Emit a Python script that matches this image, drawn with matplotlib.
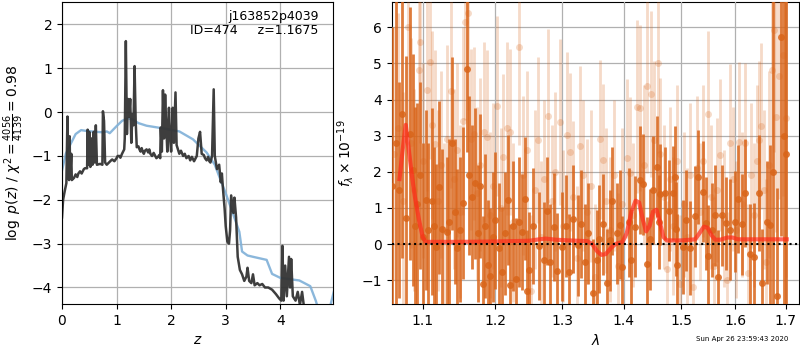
import numpy as np
import matplotlib
matplotlib.use("Agg")
import matplotlib.pyplot as plt
from matplotlib.ticker import FixedLocator, FixedFormatter, NullLocator

# ---------------- left panel: p(z) ----------------
z_prior = [0.0, 0.07, 0.14, 0.25, 0.35, 0.45, 0.63, 0.75, 0.82, 0.875, 1.0, 1.1, 1.2, 1.3, 1.4,
           1.55, 1.9, 2.15, 2.4, 2.65, 2.8, 2.9, 3.0, 3.1, 3.25, 3.3, 3.4, 3.5, 3.75, 3.85,
           4.0, 4.35, 4.55, 4.65, 4.75, 4.9, 5.0]
logp_prior = [-1.33, -0.95, -0.77, -0.5, -0.41, -0.43, -0.45, -0.46, -0.44, -0.48, -0.32, -0.2,
              -0.14, -0.17, -0.25, -0.31, -0.38, -0.44, -0.62, -0.92, -1.2, -1.53, -1.85, -2.2,
              -2.73, -3.18, -3.27, -3.3, -3.37, -3.69, -3.78, -3.84, -3.97, -4.3, -4.7, -4.5, -4.0]

z_grid = [0.00, 0.02, 0.05, 0.08, 0.09, 0.10, 0.11, 0.12, 0.13, 0.14,
          0.15, 0.17, 0.18, 0.22, 0.25, 0.28, 0.30, 0.33, 0.36, 0.40,
          0.42, 0.46, 0.47, 0.48, 0.50, 0.52, 0.54, 0.56, 0.58, 0.60,
          0.62, 0.64, 0.70, 0.74, 0.75, 0.77, 0.79, 0.82, 0.86, 0.90,
          0.92, 0.96, 1.00, 1.02, 1.05, 1.07, 1.10, 1.14, 1.15, 1.17,
          1.19, 1.21, 1.23, 1.25, 1.27, 1.29, 1.31, 1.33, 1.35, 1.37,
          1.40, 1.42, 1.44, 1.46, 1.48, 1.50, 1.52, 1.55, 1.58, 1.60,
          1.62, 1.65, 1.68, 1.70, 1.73, 1.76, 1.78, 1.80, 1.81, 1.83,
          1.85, 1.87, 1.89, 1.91, 1.93, 1.96, 1.98, 2.00, 2.03, 2.05,
          2.08, 2.10, 2.15, 2.18, 2.22, 2.25, 2.28, 2.32, 2.35, 2.38,
          2.42, 2.45, 2.47, 2.50, 2.53, 2.56, 2.60, 2.62, 2.65, 2.68,
          2.70, 2.72, 2.75, 2.78, 2.80, 2.84, 2.88, 2.91, 2.93, 2.95,
          2.98, 3.00, 3.03, 3.06, 3.08, 3.10, 3.12, 3.14, 3.16, 3.19,
          3.22, 3.26, 3.30, 3.34, 3.38, 3.40, 3.43, 3.47, 3.50, 3.53,
          3.58, 3.62, 3.67, 3.72, 3.78, 3.85, 3.92, 3.98, 4.02, 4.04,
          4.06, 4.09, 4.12, 4.16, 4.18, 4.20, 4.23, 4.28, 4.32, 4.36,
          4.40, 4.45, 4.55, 5.00]
logp = [-2.40, -2.00, -1.80, -1.62, -0.90, -0.10, -1.20, -0.60, -1.55, -0.55,
        -1.50, -0.95, -1.55, -1.50, -1.42, -1.48, -1.40, -1.35, -1.40, -1.30,
        -1.28, -1.28, -0.40, -1.20, -0.45, -1.25, -0.60, -1.20, -0.45, -1.15,
        -0.30, -1.20, -1.18, -1.20, 0.02, -0.20, -1.15, -1.20, -1.15, -1.10,
        -1.08, -1.12, -1.05, -1.00, -1.00, -1.04, -0.95, -0.85, -0.60, 1.62,
        -0.50, 0.30, -0.10, 0.30, -0.70, -0.05, -0.30, 1.05, -0.20, -0.80,
        -0.78, -0.85, -0.90, -0.82, -0.90, -0.95, -0.88, -0.85, -0.92, -0.85,
        -0.95, -1.00, -0.93, -0.98, -1.05, -1.02, -0.98, -1.05, -0.35, -0.90,
        0.50, -0.60, 0.40, -0.30, -0.90, 0.10, -0.60, -0.90, 0.10, -0.70,
        0.45, -0.75, -0.95, -0.88, -1.00, -0.95, -1.05, -1.00, -1.10, -1.02,
        -1.12, -1.05, -1.00, -0.60, -0.45, -0.95, -0.98, -1.05, -1.10, -1.02,
        -1.12, -1.15, -1.00, 0.52, -1.00, -1.30, -1.20, -1.60, -1.40, -1.75,
        -2.20, -2.60, -2.95, -3.00, -2.70, -1.90, -2.10, -2.30, -1.95, -2.40,
        -3.30, -3.60, -3.70, -3.85, -3.75, -3.55, -3.85, -3.90, -3.70, -3.95,
        -3.90, -3.95, -3.92, -4.00, -4.00, -4.05, -4.15, -4.25, -4.30, -3.05,
        -4.30, -3.50, -4.20, -3.30, -4.00, -3.35, -4.20, -4.30, -4.10, -4.40,
        -4.10, -4.60, -5.00, -5.50]

# ---------------- right panel: spectrum ----------------
wave_a = [1.061, 1.066, 1.069, 1.073, 1.0787, 1.083, 1.087, 1.090, 1.093, 1.097, 1.101, 1.104,
          1.107, 1.112, 1.115, 1.118, 1.122, 1.126, 1.132, 1.136, 1.140, 1.144, 1.147, 1.151,
          1.155, 1.160, 1.163, 1.167, 1.171, 1.175, 1.178, 1.182, 1.186, 1.190, 1.193, 1.197,
          1.200, 1.205, 1.210, 1.214, 1.218, 1.221, 1.226, 1.231, 1.235, 1.239, 1.244, 1.246,
          1.250, 1.255, 1.264, 1.272, 1.277, 1.282, 1.288, 1.293, 1.300, 1.306, 1.311, 1.318,
          1.326, 1.330, 1.336, 1.342, 1.349, 1.356, 1.359, 1.365, 1.372, 1.377, 1.381, 1.388,
          1.394, 1.397, 1.408, 1.413, 1.419, 1.427, 1.433, 1.439, 1.445, 1.450, 1.457, 1.461,
          1.4626, 1.471, 1.4788, 1.4847, 1.4888, 1.4906, 1.493, 1.5026, 1.5086, 1.5159, 1.525,
          1.531, 1.5392, 1.5453, 1.5495, 1.5559, 1.562, 1.5682, 1.5745, 1.582, 1.5903, 1.5998,
          1.6061, 1.6127, 1.6191, 1.6287, 1.6372, 1.6464, 1.653, 1.6616, 1.6683, 1.675, 1.6817,
          1.6905, 1.696, 1.700]
flux_a = [1.6, 2.8, 1.5, 3.6, 0.71, 3.06, 2.05, 0.5, 1.10, 1.9, 0.2, 1.22,
          0.39, 1.18, 0.5, -0.09, 1.57, 0.43, 0.32, 0.62, 2.79, 0.9, -0.12, 0.4,
          1.14, 4.84, 1.91, 1.31, 1.68, 0.3, 1.60, -1.11, 0.50, -0.57, -0.89, 0.2,
          0.66, -0.12, -0.77, 0.3, 1.22, -1.14, 0.50, -0.98, 0.61, 0.34, 1.26, -1.30,
          -0.72, 0.5, -0.06, -0.43, 0.92, -0.5, 0.48, -0.74, -0.07, 0.5, -0.77, 0.7,
          -0.03, 0.55, -0.5, 0.3, -1.37, -0.45, 0.13, 0.55, -1.07, 0.1, 1.19, 0.3,
          0.54, -0.63, 0.6, -0.43, 0.48, 1.77, 1.65, -0.55, 0.13, 1.5, 2.14, 0.62,
          1.38, 1.40, 0.92, 1.41, 1.86, 0.42, -0.58, -0.08, 0.66, -0.10, 0.77,
          1.86, 1.45, 0.57, -0.33, 0.39, 0.80, -0.90, 0.80, 0.57, 0.39, 0.62,
          1.24, 0.55, 1.41, -0.28, -0.35, 1.41, -1.09, 0.60, 0.54, 2.0, -1.44,
          5.72, 3.0, 2.5]
err_a = [4.4, 5.0, 3.0, 4.0, 4.5, 3.5, 3.2, 3.3, 2.8, 2.6, 2.6, 2.5,
         2.4, 2.6, 2.2, 2.3, 2.4, 2.2, 2.1, 2.3, 2.4, 2.0, 2.2, 2.0,
         2.1, 2.3, 2.2, 2.0, 2.1, 1.9, 2.0, 1.9, 2.0, 1.8, 1.9, 1.8,
         1.9, 1.8, 1.8, 1.7, 1.8, 1.7, 1.8, 1.7, 1.8, 1.6, 1.7, 1.7,
         1.6, 1.6, 1.5, 1.6, 1.5, 1.6, 1.5, 1.6, 1.5, 1.4, 1.6, 1.5,
         1.4, 1.5, 1.6, 1.4, 1.5, 1.4, 1.5, 1.4, 1.5, 1.4, 1.5, 1.4,
         1.5, 1.4, 1.5, 1.4, 1.4, 1.5, 1.4, 1.3, 1.4, 1.5, 1.4, 1.3,
         1.4, 1.3, 1.4, 1.3, 1.4, 1.3, 1.4, 1.3, 1.4, 1.3, 1.4,
         1.3, 1.4, 1.3, 1.4, 1.3, 1.4, 1.3, 1.4, 1.3, 1.4, 1.4,
         1.5, 1.4, 1.5, 1.4, 1.5, 1.6, 1.5, 1.7, 2.2, 4.8, 3.0,
         5.5, 5.5, 5.0]

wave_b = [1.063, 1.068, 1.074, 1.0804, 1.085, 1.089, 1.095, 1.096, 1.100, 1.106, 1.110, 1.112,
          1.116, 1.120, 1.124, 1.128, 1.133, 1.138, 1.142, 1.146, 1.150, 1.154, 1.157, 1.162,
          1.166, 1.170, 1.174, 1.179, 1.184, 1.188, 1.192, 1.197, 1.203, 1.208, 1.212, 1.2165,
          1.221, 1.226, 1.2345, 1.240, 1.246, 1.252, 1.258, 1.263, 1.268, 1.273, 1.279, 1.284,
          1.290, 1.2966, 1.302, 1.308, 1.313, 1.318, 1.323, 1.329, 1.334, 1.340, 1.346, 1.352,
          1.360, 1.366, 1.371, 1.377, 1.383, 1.390, 1.397, 1.405, 1.410, 1.416, 1.422, 1.428,
          1.434, 1.440, 1.446, 1.451, 1.458, 1.463, 1.469, 1.474, 1.480, 1.486, 1.492, 1.498,
          1.504, 1.510, 1.516, 1.522, 1.528, 1.534, 1.540, 1.548, 1.554, 1.560, 1.566, 1.572,
          1.578, 1.584, 1.590, 1.596, 1.602, 1.608, 1.614, 1.619, 1.625, 1.631, 1.637, 1.642,
          1.646, 1.651, 1.656, 1.661, 1.667, 1.672, 1.676, 1.680, 1.687, 1.695, 1.700]
flux_b = [2.5, 3.2, 1.2, 6.0, 2.8, 1.5, 4.82, 5.6, 2.3, 4.26, 5.05, 3.3,
          2.76, 1.2, 2.2, 0.4, 2.9, 4.24, 1.8, 2.6, 0.9, 3.41, 6.14, 6.40,
          2.9, 3.06, 1.4, 2.2, 3.1, 2.97, 0.8, 1.6, 3.82, 1.0, 2.4, 3.2,
          3.1, 0.6, 5.45, 1.9, 2.6, -1.3, 1.5, 2.88, 0.2, 1.8, 3.55, 1.2,
          2.0, 3.39, 0.5, 3.02, 2.55, 1.3, -0.4, 2.72, 1.9, 0.9, 1.6, -0.9,
          2.9, 2.32, 1.2, 0.4, 1.9, -0.6, 1.1, 2.37, 1.96, 0.8, 3.8, 3.77,
          2.2, 4.38, 4.15, 2.88, 5.02, 2.5, 1.3, -0.7, 1.8, 0.5, 2.3, -1.1,
          1.1, 0.2, 1.9, -1.2, 2.1, 0.9, 2.3, 3.6, 1.3, -0.6, 1.5, 2.46,
          0.7, -1.0, 2.79, 1.8, 0.4, 2.83, 1.1, 2.8, -0.8, 1.9, 0.8, 2.3,
          2.88, 3.27, 1.5, -0.5, 2.2, 4.82, 5.94, 3.52, 4.65, 5.23, 3.5]
err_b = [3.5, 3.2, 3.0, 3.0, 2.9, 2.8, 2.9, 2.8, 2.7, 2.8, 2.7, 2.6,
         2.6, 2.5, 2.6, 2.4, 2.6, 2.7, 2.5, 2.4, 2.4, 2.6, 2.7, 2.7,
         2.5, 2.4, 2.4, 2.4, 2.5, 2.4, 2.3, 2.3, 2.5, 2.2, 2.3, 2.4,
         2.3, 2.2, 2.7, 2.2, 2.2, 2.1, 2.2, 2.3, 2.1, 2.2, 2.4, 2.1,
         2.2, 2.3, 2.1, 2.3, 2.2, 2.1, 2.0, 2.2, 2.1, 2.0, 2.1, 2.0,
         2.2, 2.1, 2.0, 2.0, 2.1, 2.0, 2.1, 2.2, 2.1, 2.0, 2.4, 2.3,
         2.2, 2.4, 2.3, 2.2, 2.5, 2.1, 2.0, 1.9, 2.0, 1.9, 2.1, 1.9,
         2.0, 1.9, 2.0, 1.9, 2.0, 1.9, 2.1, 2.3, 2.0, 1.9, 2.0, 2.1,
         1.9, 1.9, 2.2, 2.0, 1.9, 2.2, 2.0, 2.2, 1.9, 2.0, 2.0, 2.1,
         2.2, 2.3, 2.2, 2.3, 2.6, 2.9, 3.4, 3.2, 3.4, 3.9, 4.4]

wave_model = [1.070, 1.074, 1.078, 1.082, 1.086, 1.090, 1.095, 1.100, 1.104, 1.150, 1.200, 1.250,
              1.265, 1.275, 1.290, 1.310, 1.340, 1.348, 1.356, 1.363, 1.370, 1.378, 1.386, 1.398,
              1.405, 1.413, 1.420, 1.426, 1.432, 1.438, 1.444, 1.450, 1.456, 1.462, 1.468, 1.474,
              1.500, 1.525, 1.533, 1.541, 1.548, 1.555, 1.562, 1.572, 1.585, 1.595, 1.605, 1.650,
              1.702]
flux_model = [1.8, 2.6, 3.3, 2.6, 1.9, 1.3, 0.7, 0.2, 0.06, 0.06, 0.07, 0.09,
              0.13, 0.15, 0.12, 0.10, 0.08, 0.0, -0.2, -0.3, -0.28, -0.12, 0.0, 0.06,
              0.3, 0.9, 1.2, 1.15, 0.7, 0.35, 0.5, 0.9, 0.95, 0.6, 0.2, 0.1,
              0.1, 0.13, 0.3, 0.48, 0.45, 0.25, 0.12, 0.12, 0.18, 0.18, 0.13, 0.13,
              0.13]

lam_ticks = [1.1, 1.2, 1.3, 1.4, 1.5, 1.6, 1.7]
lam_ticklabels = ["1.1", "1.2", "1.3", "1.4", "1.5", "1.6", "1.7"]

# ---------------- figure ----------------
fig = plt.figure(figsize=(8, 3.5), dpi=100)
ax1 = fig.add_axes([0.0775, 0.131, 0.339, 0.863])
ax2 = fig.add_axes([0.4896, 0.131, 0.509, 0.863])

ax1.plot(z_prior, logp_prior, color='#7fb0d8', lw=1.7, alpha=0.9)
ax1.plot(z_grid, logp, color='#333333', lw=1.8, alpha=0.95)
ax1.set_xlim(0, 4.97)
ax1.set_ylim(-4.38, 2.51)
ax1.set_xticks([0, 1, 2, 3, 4])
ax1.set_yticks([-4, -3, -2, -1, 0, 1, 2])
ax1.grid(True, color='#b0b0b0', lw=0.9)
ax1.set_xlabel(r'$z$')
ax1.set_ylabel(r'$\log\ p(z)$ / $\chi^2=\frac{4056}{4139}=0.98$')
ax1.text(0.945, 0.975, 'j163852p4039\nID=474     z=1.1675', transform=ax1.transAxes,
         ha='right', va='top', fontsize=9, linespacing=1.1)

col = '#d9651a'
ax2.errorbar(wave_b, flux_b, yerr=err_b, fmt='o', color=col, alpha=0.24, ms=5,
             elinewidth=2.0, mec='none', zorder=3)
ax2.errorbar(wave_a, flux_a, yerr=err_a, fmt='o', color=col, alpha=0.85, ms=5,
             elinewidth=2.0, mec='none', zorder=4)
ax2.plot(wave_model, flux_model, color='#ff2a1a', lw=3, alpha=0.7, zorder=6)
ax2.axhline(0, color='black', ls=':', lw=1.5, zorder=7)
ax2.set_xscale('log')
ax2.set_xlim(1.060, 1.727)
ax2.set_ylim(-1.665, 6.70)
ax2.xaxis.set_major_locator(FixedLocator(lam_ticks))
ax2.xaxis.set_major_formatter(FixedFormatter(lam_ticklabels))
ax2.xaxis.set_minor_locator(NullLocator())
ax2.set_yticks([-1, 0, 1, 2, 3, 4, 5, 6])
ax2.grid(True, color='#b0b0b0', lw=0.9, zorder=5)
ax2.set_axisbelow(False)
ax2.set_xlabel(r'$\lambda$')
ax2.set_ylabel(r'$f_\lambda\times10^{-19}$')

fig.text(0.985, 0.031, 'Sun Apr 26 23:59:43 2020', ha='right', va='center', fontsize=5)

fig.savefig('out.png', dpi=100)
